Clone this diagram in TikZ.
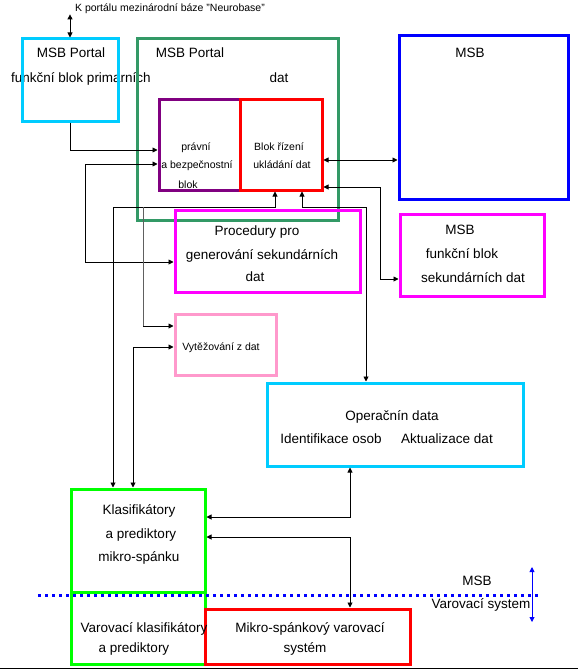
\documentclass[tikz,border=0pt]{standalone}
\usepackage{fontspec}
\setmainfont{Liberation Sans}
\usetikzlibrary{arrows.meta}
\definecolor{cyanc}{HTML}{00CCFF}
\definecolor{seag}{HTML}{339966}
\definecolor{purp}{HTML}{800080}
\definecolor{redc}{HTML}{FF0000}
\definecolor{bluec}{HTML}{0000FF}
\definecolor{magc}{HTML}{FF00FF}
\definecolor{pinkc}{HTML}{FF99CC}
\definecolor{greenc}{HTML}{00FF00}
\definecolor{grayc}{HTML}{606060}
\tikzset{
  box/.style={draw=#1, line width=3pt, inner sep=0pt},
  conn/.style={line width=0.9pt, draw=black},
  arr/.style={conn, -{Triangle[length=5pt,width=5pt]}},
  arrtwo/.style={conn, {Triangle[length=5pt,width=5pt]}-{Triangle[length=5pt,width=5pt]}},
  txt/.style={inner sep=0pt, anchor=base, font=\fontsize{13.5}{15}\selectfont},
  stxt/.style={inner sep=0pt, anchor=base, font=\fontsize{10.5}{12}\selectfont},
}
\begin{document}
\begin{tikzpicture}[x=1pt,y=-1pt]
\useasboundingbox (0,0) rectangle (578,669);
% texts under boxes
\node[stxt] (toptext) at (170,12) {K portálu mezinárodní báze "Neurobase"};
\node[txt] (tp1) at (71,57) {MSB Portal};
\node[txt] (tp2) at (81,82) {funkční blok primarních};
\node[txt] (tg1) at (190,57) {MSB Portal};
\node[txt] (tg2) at (279,82) {dat};
% boxes
\node[box=cyanc, minimum width=96pt, minimum height=82pt] (portal) at (70,80) {};
\node[box=seag, minimum width=201pt, minimum height=181pt] (green) at (237.5,129.5) {};
\node[box=purp, minimum width=81pt, minimum height=91pt] (purple) at (199.5,144.5) {};
\node[box=redc, minimum width=82pt, minimum height=91pt] (red) at (281,144.5) {};
\node[box=bluec, minimum width=169pt, minimum height=163pt] (blue) at (483.5,117.5) {};
\node[box=magc, minimum width=144pt, minimum height=82pt] (msbtwo) at (472,255) {};
\node[box=magc, minimum width=185pt, minimum height=82pt] (proc) at (267.5,251) {};
\node[box=pinkc, minimum width=101pt, minimum height=61pt] (pink) at (225.5,344.5) {};
\node[box=cyanc, minimum width=256pt, minimum height=83pt] (oper) at (395,424.5) {};
\node[box=greenc, minimum width=134pt, minimum height=103pt] (klas) at (138,540.5) {};
\node[box=greenc, minimum width=134pt, minimum height=72pt] (varkl) at (138,628) {};
\node[box=redc, minimum width=205pt, minimum height=55pt] (mikro) at (307.5,636.5) {};
% texts
\node[stxt] at (196,150) {právní};
\node[stxt] at (197,168) {a bezpečnostní};
\node[stxt] at (188,188) {blok};
\node[stxt] at (279,150) {Blok řízení};
\node[stxt] at (282,168) {ukládání dat};
\node[txt] at (470,57) {MSB};
\node[txt] at (257,235) {Procedury pro};
\node[txt] at (262,259) {generování sekundárních};
\node[txt] at (255,281) {dat};
\node[stxt] at (221,350) {Vytěžování z dat};
\node[txt] at (460,234) {MSB};
\node[txt] at (462,258) {funkční blok};
\node[txt] at (473,282) {sekundárních dat};
\node[txt] at (392,420) {Operačnín data};
\node[txt] at (331,443) {Identifikace osob};
\node[txt] at (447,443) {Aktualizace dat};
\node[txt] at (139,514) {Klasifikátory};
\node[txt] at (141,538) {a prediktory};
\node[txt] at (139,561) {mikro-spánku};
\node[txt] at (477,585) {MSB};
\node[txt] at (481,608) {Varovací system};
\node[txt] at (144,632) {Varovací klasifikátory};
\node[txt] at (134,652) {a prediktory};
\node[txt] at (310,632) {Mikro-spánkový varovací};
\node[txt] at (305,652) {systém};
% connectors
\draw[arrtwo] (portal.north |- toptext.south) -- (portal.north);
\draw[arr] (portal.south) |- (purple.west |- 0,150);
\draw[arrtwo] (purple.west |- 0,164) -| (85,262) -- (proc.west |- 0,262);
\draw[arrtwo] (red.south -| 275,0) |- (113,207) -- (klas.north -| 113,0);
\coordinate (gbranch) at (143,207);
\draw[conn, draw=grayc] (gbranch) -- (143,326);
\draw[arr] (143,326) -- (pink.west |- 0,326);
\draw[arrtwo] (red.south -| 302,0) |- (366,207) -- (oper.north -| 366,0);
\draw[arrtwo] (klas.north -| 133,0) |- (pink.west |- 0,347);
\draw[arrtwo] (red.east |- 0,160) -- (blue.west |- 0,160);
\draw[arrtwo] (red.east |- 0,187) -| (380,279) -- (msbtwo.west |- 0,279);
\draw[arrtwo] (oper.south -| 350,0) |- (klas.east |- 0,517);
\draw[arrtwo] (klas.east |- 0,537) -| (mikro.north -| 350,0);
% dotted separator and blue arrow
\draw[bluec, line width=3pt, dash pattern=on 3pt off 4pt] (38,595) -- (541,595);
\coordinate (bt) at (532,567);
\coordinate (bb) at (532,622);
\draw[line width=0.9pt, draw=bluec, {Triangle[length=5pt,width=5pt]}-{Triangle[length=5pt,width=5pt]}] (bt) -- (bb);
\draw[line width=1pt] (0,668) -- (578,668);
\end{tikzpicture}
\end{document}
